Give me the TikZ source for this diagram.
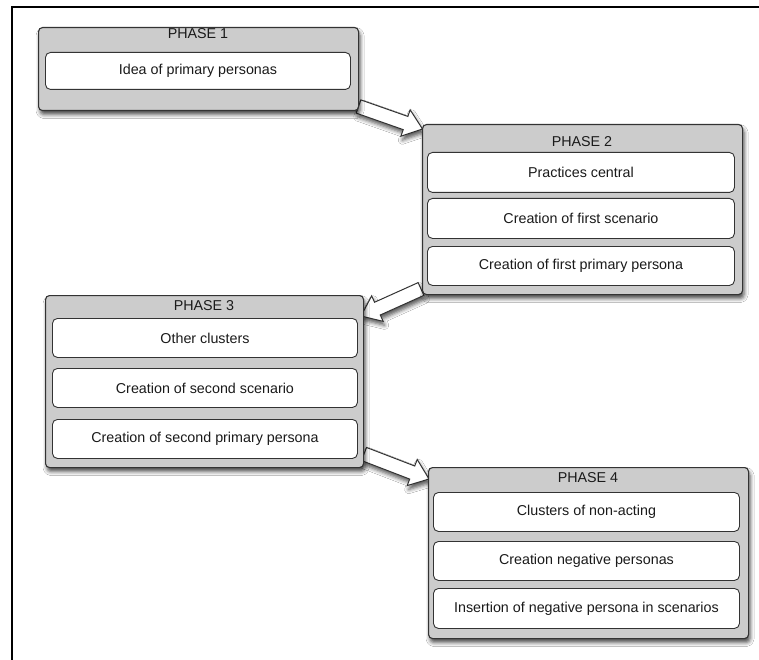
\documentclass[tikz,border=0pt]{standalone}
\usepackage{fontspec}
\setmainfont{Liberation Sans}
\usetikzlibrary{calc,shadows.blur}
\definecolor{boxgray}{HTML}{CCCCCC}
\definecolor{edge}{HTML}{333333}
\definecolor{txt}{HTML}{1A1A1A}
\tikzset{
  x=1pt, y=-1pt,
  outerbox/.style={draw=edge, line width=1.1pt, fill=boxgray, rounded corners=4pt,
    anchor=north west, minimum width=320pt, inner sep=0pt,
    blur shadow={shadow xshift=1.5pt, shadow yshift=-4pt, shadow blur radius=4pt, shadow opacity=70}},
  innerbox/.style={draw=edge, line width=0.9pt, fill=white, rounded corners=5pt,
    anchor=north west, inner sep=0pt, text=txt, font=\fontsize{14.3}{17}\selectfont},
  title/.style={text=txt, font=\fontsize{14.3}{17}\selectfont, inner sep=0pt},
  blockarrow/.style={draw=edge, line width=1pt, fill=white, line join=miter,
    blur shadow={shadow xshift=1.5pt, shadow yshift=-4pt, shadow blur radius=4pt, shadow opacity=65}},
  frameline/.style={line width=2.2pt, black}
}
% #1 tail coordinate, #2 tip coordinate
\newcommand{\blockarr}[2]{%
  \coordinate (neck) at ($(#2)!18pt!(#1)$);
  \path[blockarrow]
    ($(#1)!7pt!90:(#2)$) --
    ($(neck)!7pt!-90:(#1)$) --
    ($(neck)!14pt!-90:(#1)$) --
    (#2) --
    ($(neck)!14pt!90:(#1)$) --
    ($(neck)!7pt!90:(#1)$) --
    ($(#1)!7pt!-90:(#2)$) -- cycle;}
\begin{document}
\begin{tikzpicture}
\useasboundingbox (0,0) rectangle (759,660);
\fill[white] (0,0) rectangle (759,660);
% frame
\coordinate (fc) at (12.2,7);
\coordinate (fr) at (759,7);
\coordinate (fb) at (12.2,660);
\draw[frameline] (fr) -- (fc) -- (fb);

% arrows (behind boxes)
\coordinate (a1s) at (358.5,106.5);
\coordinate (a1e) at (422.5,129);
\coordinate (a2s) at (421,289);
\coordinate (a2e) at (361,316);
\coordinate (a3s) at (364,454);
\coordinate (a3e) at (429,479);
\blockarr{a1s}{a1e}
\blockarr{a2s}{a2e}
\blockarr{a3s}{a3e}

% PHASE 1
\node[outerbox, minimum height=83pt] (p1) at (38,27) {};
\node[title] (t1) at (198,33.5) {PHASE 1};
\node[innerbox, minimum width=305pt, minimum height=37pt] (b11) at (45,52) {Idea of primary personas};

% PHASE 2
\node[outerbox, minimum height=170pt] (p2) at (422,124) {};
\node[title] (t2) at (582,142) {PHASE 2};
\node[innerbox, minimum width=307pt, minimum height=40pt] (b21) at (427,152) {Practices central};
\node[innerbox, minimum width=307pt, minimum height=40pt] (b22) at (427,198) {Creation of first scenario};
\node[innerbox, minimum width=307pt, minimum height=39pt] (b23) at (427,246) {Creation of first primary persona};

% PHASE 3
\node[outerbox, minimum width=318pt, minimum height=172pt] (p3) at (45,295) {};
\node[title] (t3) at (204,305.5) {PHASE 3};
\node[innerbox, minimum width=305pt, minimum height=39pt] (b31) at (52,318) {Other clusters};
\node[innerbox, minimum width=305pt, minimum height=39pt] (b32) at (52,368) {Creation of second scenario};
\node[innerbox, minimum width=305pt, minimum height=39pt] (b33) at (52,419) {Creation of second primary persona};

% PHASE 4
\node[outerbox, minimum height=171pt] (p4) at (428,467) {};
\node[title] (t4) at (588,478) {PHASE 4};
\node[innerbox, minimum width=306pt, minimum height=39pt] (b41) at (433,492) {Clusters of non-acting};
\node[innerbox, minimum width=306pt, minimum height=39pt] (b42) at (433,541) {Creation negative personas};
\node[innerbox, minimum width=306pt, minimum height=40pt] (b43) at (433,588) {Insertion of negative persona in scenarios};
\end{tikzpicture}
\end{document}
